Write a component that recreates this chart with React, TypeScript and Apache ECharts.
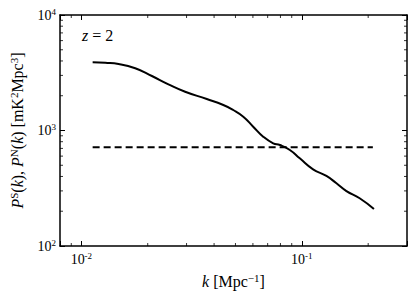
import React, { useEffect, useRef } from "react";
import * as echarts from "echarts";

const kValues = [0.01125, 0.01284, 0.01475, 0.01755, 0.02089, 0.02483, 0.02956, 0.03706, 0.04405, 0.04888, 0.05427, 0.06018, 0.06681, 0.07416, 0.07955, 0.08825, 0.0979, 0.1125, 0.1293, 0.1436, 0.1594, 0.183, 0.2124];
const signalP = [3895, 3856, 3765, 3456, 2964, 2512, 2167, 1874, 1663, 1505, 1317, 1079, 884, 775, 749, 678, 574, 461, 404, 349, 299, 259, 209];
const noiseK = [0.01125, 0.21];
const noiseP = [715, 715];
const xMinorTicks = [0.009, 0.02, 0.03, 0.04, 0.05, 0.06, 0.07, 0.08, 0.09, 0.2];
const yMinorTicks = [200, 300, 400, 500, 600, 700, 800, 900, 2000, 3000, 4000, 5000, 6000, 7000, 8000, 9000];
const xRange = [0.008, 0.3];
const yRange = [100, 10000];

const FONT = "Liberation Serif";

function powLabel(v: number) {
  const e = Math.log10(v);
  const r = Math.round(e);
  if (Math.abs(e - r) > 1e-6) return "";
  return "{b|10}{s|" + (r < 0 ? "-" + Math.abs(r) : String(r)) + "}";
}

const labelRich = {
  b: { fontFamily: FONT, fontSize: 14, color: "#000" },
  s: { fontFamily: FONT, fontSize: 9, color: "#000", padding: [0, 0, 7, 0] },
};

const nameRich = {
  i: { fontFamily: FONT, fontSize: 16, fontStyle: "italic", color: "#000" },
  r: { fontFamily: FONT, fontSize: 16, color: "#000" },
  s: { fontFamily: FONT, fontSize: 11, color: "#000", padding: [0, 0, 8, 0] },
};

export default function App() {
  const ref = useRef<HTMLDivElement>(null);
  useEffect(() => {
    const chart = echarts.init(ref.current!, null, { renderer: "svg" });
    const signal = kValues.map((k, i) => [k, signalP[i]]);
    const noise = noiseK.map((k, i) => [k, noiseP[i]]);
    const majorTick = { show: true, inside: true, length: 5, lineStyle: { color: "#000", width: 1 } };
    const axisLine = { show: true, onZero: false, lineStyle: { color: "#000", width: 1.5 } };
    const xMinorData = xMinorTicks.map((v) => [v, 1000]);
    const yMinorData = yMinorTicks.map((v) => [0.05, v]);
    chart.setOption({
      animation: false,
      backgroundColor: "#fff",
      textStyle: { fontFamily: FONT },
      grid: { left: 60, right: 9, top: 15, bottom: 51, containLabel: false },
      xAxis: [
        {
          type: "log",
          logBase: 10,
          min: xRange[0],
          max: xRange[1],
          axisLine,
          axisTick: majorTick,
          splitLine: { show: false },
          axisLabel: { formatter: powLabel, rich: labelRich, margin: 5, fontFamily: FONT },
          name: "{i|k}{r| [Mpc}{s|−1}{r|]}",
          nameLocation: "middle",
          nameGap: 26,
          nameTextStyle: { rich: nameRich, fontFamily: FONT },
        },
        {
          type: "log",
          logBase: 10,
          min: xRange[0],
          max: xRange[1],
          position: "top",
          axisLine,
          axisTick: majorTick,
          splitLine: { show: false },
          axisLabel: { show: false },
        },
      ],
      yAxis: [
        {
          type: "log",
          logBase: 10,
          min: yRange[0],
          max: yRange[1],
          axisLine,
          axisTick: majorTick,
          splitLine: { show: false },
          axisLabel: { formatter: powLabel, rich: labelRich, margin: 4, fontFamily: FONT },
          name: "{i|P}{s|S}{r|(}{i|k}{r|), }{i|P}{s|N}{r|(}{i|k}{r|) [mK}{s|2}{r|Mpc}{s|3}{r|]}",
          nameLocation: "middle",
          nameRotate: 90,
          nameGap: 33,
          nameTextStyle: { rich: nameRich, fontFamily: FONT },
        },
        {
          type: "log",
          logBase: 10,
          min: yRange[0],
          max: yRange[1],
          position: "right",
          axisLine,
          axisTick: majorTick,
          splitLine: { show: false },
          axisLabel: { show: false },
        },
      ],
      graphic: [
        {
          type: "text",
          left: 82,
          top: 27,
          style: {
            text: "{i|z} {r|= 2}",
            rich: nameRich,
            fontFamily: FONT,
            fontSize: 16,
          },
        },
      ],
      series: [
        {
          type: "line",
          data: signal,
          smooth: 0.5,
          showSymbol: false,
          lineStyle: { color: "#000", width: 2 },
          z: 5,
        },
        {
          type: "line",
          data: noise,
          showSymbol: false,
          lineStyle: { color: "#000", width: 2, type: [7, 4] },
          z: 4,
        },
        {
          type: "custom",
          data: xMinorData,
          silent: true,
          renderItem: (params: any, api: any) => {
            const p = api.coord([api.value(0), api.value(1)]);
            const cs = params.coordSys;
            const top = cs.y;
            const bottom = cs.y + cs.height;
            return {
              type: "group",
              children: [
                { type: "line", shape: { x1: p[0], y1: bottom, x2: p[0], y2: bottom - 3 }, style: { stroke: "#000", lineWidth: 0.8 } },
                { type: "line", shape: { x1: p[0], y1: top, x2: p[0], y2: top + 3 }, style: { stroke: "#000", lineWidth: 0.8 } },
              ],
            };
          },
        },
        {
          type: "custom",
          data: yMinorData,
          silent: true,
          renderItem: (params: any, api: any) => {
            const p = api.coord([api.value(0), api.value(1)]);
            const cs = params.coordSys;
            const left = cs.x;
            const right = cs.x + cs.width;
            return {
              type: "group",
              children: [
                { type: "line", shape: { x1: left, y1: p[1], x2: left + 3, y2: p[1] }, style: { stroke: "#000", lineWidth: 0.8 } },
                { type: "line", shape: { x1: right, y1: p[1], x2: right - 3, y2: p[1] }, style: { stroke: "#000", lineWidth: 0.8 } },
              ],
            };
          },
        },
      ],
    });
    return () => chart.dispose();
  }, []);
  return <div ref={ref} style={{ position: "absolute", left: 0, top: 0, width: 416, height: 297 }} />;
}
